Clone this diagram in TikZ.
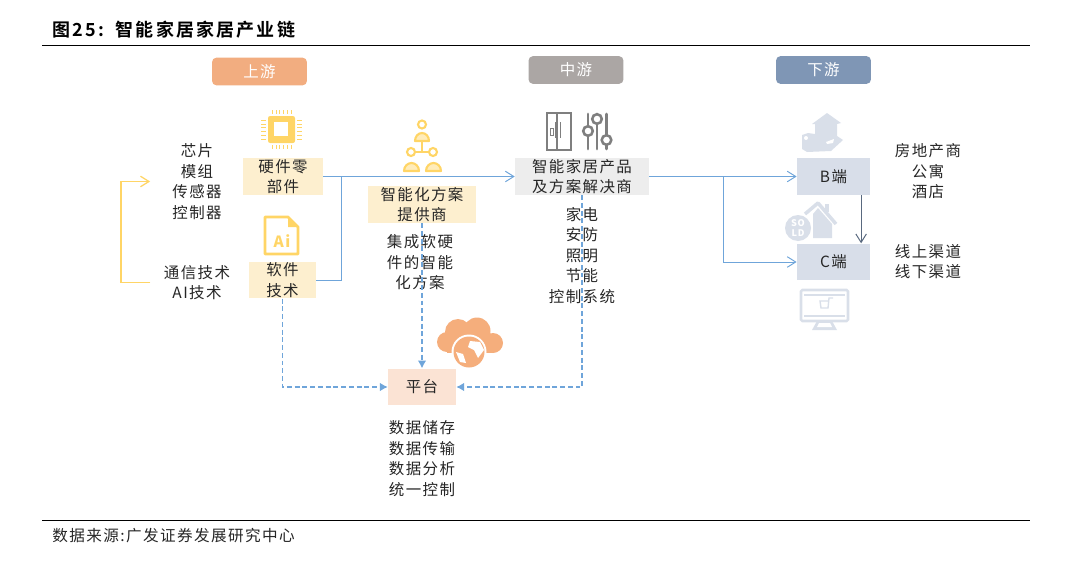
\documentclass[tikz,border=0pt]{standalone}
\usepackage{fontspec}
\setmainfont[LetterSpace=9]{Noto Sans CJK SC}
\newfontfamily\titlefont[LetterSpace=12,BoldFont={Noto Sans CJK SC Bold}]{Noto Sans CJK SC}
\usetikzlibrary{arrows.meta}
\definecolor{upc}{HTML}{F2AD80}
\definecolor{midc}{HTML}{ABA6A4}
\definecolor{downc}{HTML}{7F96B5}
\definecolor{yellowbox}{HTML}{FDEFCF}
\definecolor{greybox}{HTML}{EDEDED}
\definecolor{bluebox}{HTML}{D8DEE9}
\definecolor{peachbox}{HTML}{FBE3D4}
\definecolor{iconyellow}{HTML}{FFD566}
\definecolor{icongrey}{HTML}{7F7F7F}
\definecolor{iconpale}{HTML}{D9DFE9}
\definecolor{iconorange}{HTML}{F5AE7C}
\definecolor{linkblue}{HTML}{6FA5DA}
\tikzset{
  txt/.style={align=center, inner sep=0pt, text=black!85, font=\fontsize{11}{14.6}\selectfont},
  head/.style={fill=#1, rounded corners=3pt, minimum width=2.37cm, minimum height=0.69cm, inner sep=0pt, text=white, font=\fontsize{11}{14}\selectfont},
  box/.style={txt, fill=#1, minimum height=0.92cm},
  solid link/.style={draw=linkblue, line width=0.7pt, -{Straight Barb[length=6pt,width=7.5pt]}},
  dash link/.style={draw=linkblue, line width=0.8pt, dash pattern=on 3.5pt off 2pt, -{Latex[length=5.5pt,width=6pt]}},
}
\begin{document}
\begin{tikzpicture}[x=0.025cm,y=-0.025cm,>=stealth]
\useasboundingbox (0,0) rectangle (1080,566);

\node[anchor=west, inner sep=0pt, font=\titlefont\bfseries\fontsize{12.8}{14}\selectfont] (title) at (52,30) {图25:\hspace{0.3cm}智能家居家居产业链};
\draw[line width=0.7pt] (42,45) -- (1030,45);
\draw[line width=0.7pt] (42,520) -- (1030,520);
\node[anchor=west, txt, font=\fontsize{11.1}{14}\selectfont] (source) at (52,536) {数据来源:广发证券发展研究中心};

\node[head=upc] (up) at (259.5,71.5) {上游};
\node[head=midc] (mid) at (576,70) {中游};
\node[head=downc] (down) at (823.5,70) {下游};

\node[box=yellowbox, minimum width=2cm] (hard) at (283,176.5) {硬件零\\部件};
\node[box=yellowbox, minimum width=1.68cm] (soft) at (282.5,280) {软件\\技术};
\node[box=yellowbox, minimum width=2.7cm] (scheme) at (422,204.5) {智能化方案\\提供商};
\node[box=greybox, minimum width=3.35cm] (solution) at (582,176.5) {智能家居产品\\及方案解决商};
\node[box=bluebox, minimum width=1.83cm] (bend) at (833.5,176.5) {B端};
\node[box=bluebox, minimum width=1.83cm] (cend) at (833.5,262) {C端};
\node[box=peachbox, minimum width=1.7cm] (platform) at (422,387) {平台};

\node[txt] (parts) at (197,181.5) {芯片\\模组\\传感器\\控制器};
\node[txt] (tech) at (197,282.5) {通信技术\\AI技术};
\node[txt] (softhard) at (420,262.5) {集成软硬\\件的智能\\化方案};
\node[txt] (products) at (582,255.5) {家电\\安防\\照明\\节能\\控制系统};
\node[txt] (bclient) at (928,171.5) {房地产商\\公寓\\酒店};
\node[txt] (channel) at (928,261.5) {线上渠道\\线下渠道};
\node[txt] (data) at (422,458.5) {数据储存\\数据传输\\数据分析\\统一控制};

\coordinate (merge) at (341,176.5);
\coordinate (split) at (723,176.5);
\coordinate (loop) at (121,230);
\draw[solid link] (hard.east) -- (solution.west);
\draw[solid link, -] (soft.east) -| (merge);
\draw[solid link] (solution.east) -- (bend.west);
\draw[solid link] (split) |- (cend.west);
\draw[solid link, draw=downc!70!black] ([xshift=0.69cm]bend.south) -- ([xshift=0.69cm]cend.north);
\draw[draw=iconyellow, line width=0.9pt, shorten <=0.33cm, shorten >=0.55cm, -{Straight Barb[length=6pt,width=7.5pt]}] (tech.west) -| (loop) |- (parts.west);

\draw[dash link] (soft.south) |- (platform.west);
\draw[dash link] (scheme.south) -- (platform.north);
\draw[dash link] (solution.south) |- (platform.east);

\fill[iconyellow, rounded corners=1.5pt] (268,116) rectangle (295,143);
\fill[white] (274,122) rectangle (288,136);
\foreach \i in {0,...,5} {
  \draw[iconyellow, line width=0.4pt] (272+\i*3.8,110) -- (272+\i*3.8,114);
  \draw[iconyellow, line width=0.4pt] (272+\i*3.8,145) -- (272+\i*3.8,149);
  \draw[iconyellow, line width=0.4pt] (261,120+\i*3.8) -- (266,120+\i*3.8);
  \draw[iconyellow, line width=0.4pt] (297,120+\i*3.8) -- (302,120+\i*3.8);
}

\draw[iconyellow, line width=1.5pt] (422,124.5) circle (4);
\draw[iconyellow, line width=1.5pt] (411,152) circle (4) (433,152) circle (4);
\draw[iconyellow, line width=1.5pt] (415,152) -- (429,152) (422,142) -- (422,152);
\draw[iconyellow, fill=iconyellow!45, line width=1.5pt, line join=round] (415,141) arc[start angle=180, end angle=360, x radius=7, y radius=8] -- cycle;
\draw[iconyellow, fill=iconyellow!45, line width=1.5pt, line join=round] (404,171) arc[start angle=180, end angle=360, x radius=7.5, y radius=8] -- cycle;
\draw[iconyellow, fill=iconyellow!45, line width=1.5pt, line join=round] (426,171) arc[start angle=180, end angle=360, x radius=7.5, y radius=8] -- cycle;

\draw[iconyellow, line width=2pt, line join=round] (265,217) -- (288,217) -- (298,227) -- (298,254) -- (265,254) -- cycle;
\fill[iconyellow] (288,217) -- (288,227) -- (298,227) -- cycle;
\node[inner sep=0pt, text=iconyellow, font=\bfseries\fontsize{11}{12}\selectfont] (ailabel) at (282,241) {Ai};

\draw[icongrey, line width=0.8pt] (547,113) rectangle (571,150);
\draw[icongrey, line width=0.8pt] (557,113) -- (557,150);
\draw[icongrey, line width=0.5pt] (550,128) rectangle (553,135);
\draw[icongrey, line width=0.6pt] (555,122) -- (555,138) (560,122) -- (560,138);

\foreach \x/\y in {588/131,597/119,606.5/140} {
  \draw[icongrey, line width=2pt, line cap=round] (\x,114) -- (\x,149);
  \draw[icongrey, line width=1.8pt, fill=white] (\x,\y) circle (4.8);
}

\fill[iconpale] (827,113) -- (841,123) -- (837,124) -- (837,136) -- (843,140) -- (831,151) -- (807,152) -- (802,149) -- (802,135) -- (808,133) -- (815,134) -- (815,124) -- (812,124) -- cycle;
\fill[white] (826,142) -- (834,139) -- (833,143) -- (827,144) -- cycle;
\fill[white] (806,138) circle (2);

\draw[iconpale, line width=2.5pt, line join=round] (805,214) -- (818,203) -- (836,224);
\fill[iconpale] (825,204) rectangle (829,212);
\fill[iconpale] (813,214) -- (818,208) -- (832,224) -- (832,238) -- (813,238) -- cycle;
\fill[white] (798,228) circle (15);
\fill[iconpale] (798,228) circle (13);
\node[inner sep=0pt, align=center, text=white, font=\bfseries\fontsize{6.5}{7}\selectfont] (sold) at (798,228) {SO\\LD};

\draw[iconpale, line width=1.8pt, rounded corners=1pt] (801,290) rectangle (848,321);
\draw[iconpale, line width=0.9pt] (804,295) -- (845,295) (804,316) -- (845,316);
\fill[iconpale] (817,321) -- (832,321) -- (837,330) -- (812,330) -- cycle;
\fill[white] (819,323) -- (830,323) -- (832,327) -- (817,327) -- cycle;
\draw[iconpale, line width=1pt] (833,298) -- (829,298) -- (828,308) -- (821,308) -- (820,301) -- (829,301);

\fill[iconorange] (447,342) circle (10) (458,332) circle (13) (477,331) circle (13.5) (493,343) circle (10);
\fill[iconorange] (447,340) rectangle (493,353);
\fill[white] (469,352) circle (17.5);
\fill[iconorange] (469,352) circle (15.5);
\fill[white] (470,341) -- (480,342) -- (484,350) -- (478,358) -- (474,350) -- (468,347) -- cycle;
\fill[white] (456,352) -- (463,354) -- (466,363) -- (460,362) -- cycle;
\end{tikzpicture}
\end{document}
